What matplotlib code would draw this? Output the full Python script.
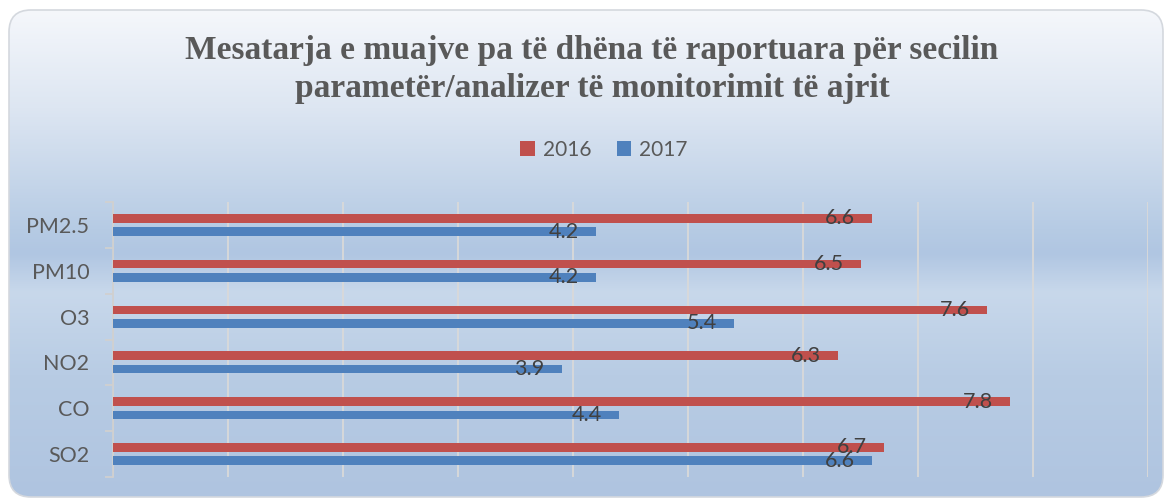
import numpy as np
import matplotlib
matplotlib.use("Agg")
import matplotlib.pyplot as plt
from matplotlib.patches import FancyBboxPatch
from matplotlib.colors import LinearSegmentedColormap

categories = ["PM2.5", "PM10", "O3", "NO2", "CO", "SO2"]
values_2016 = [6.6, 6.5, 7.6, 6.3, 7.8, 6.7]
values_2017 = [4.2, 4.2, 5.4, 3.9, 4.4, 6.6]
series_names = ["2016", "2017"]

W, H = 1165, 499
fig = plt.figure(figsize=(W / 100, H / 100), dpi=100)
fig.patch.set_facecolor("white")


def fx(x):
    return x / W


def fy(y):
    return 1 - y / H


# background panel with Office style gradient
bg = fig.add_axes([0, 0, 1, 1])
bg.set_xlim(0, W)
bg.set_ylim(H, 0)
bg.axis("off")
stops = [(0.0, "#f5f7fb"), (0.2, "#dde6f2"), (0.45, "#b6cbe4"),
         (0.5, "#b0c6e2"), (0.58, "#c8d8eb"), (0.75, "#b8cce4"), (1.0, "#afc4e0")]
cmap = LinearSegmentedColormap.from_list("office", stops)
grad = np.linspace(0, 1, 256).reshape(-1, 1)
img = bg.imshow(grad, cmap=cmap, extent=[9, 1163, 497, 10], aspect="auto")
panel = FancyBboxPatch((9, 10), 1154, 487, boxstyle="round,pad=0,rounding_size=22",
                       facecolor="none", edgecolor="#d4d8de", linewidth=1.2)
bg.add_patch(panel)
img.set_clip_path(panel)

ax = fig.add_axes([fx(113), fy(477), fx(1148 - 113), fy(202) - fy(477)])
ax.patch.set_alpha(0)

y = np.arange(len(categories))
bh = 0.19
off = 0.145
bars16 = ax.barh(y - off, values_2016, height=bh, color="#c0504d", label=series_names[0], zorder=3)
bars17 = ax.barh(y + off, values_2017, height=bh, color="#4f81bd", label=series_names[1], zorder=3)

for bars in (bars16, bars17):
    for b in bars:
        ax.annotate(f"{b.get_width():.1f}", (b.get_width(), b.get_y() + b.get_height() / 2),
                    xytext=(-12, 0), textcoords="offset points", ha="right", va="center",
                    fontsize=15.5, color="#404040", family="Lato", zorder=4)

ax.set_xlim(0, 9)
ax.set_ylim(len(categories) - 0.5, -0.5)
ax.set_xticks(np.arange(0, 10))
ax.xaxis.grid(True, color="#d9d9d9", linewidth=1.3, zorder=0)
ax.tick_params(axis="x", length=0, labelbottom=False)
ax.set_yticks(y)
ax.set_yticklabels(categories, fontsize=15.5, color="#595959", family="Lato")
ax.tick_params(axis="y", which="major", length=0, pad=17)
ax.set_yticks(np.arange(-0.5, len(categories)), minor=True)
ax.tick_params(axis="y", which="minor", length=6, color="#d0d0d0", width=1.3)
for s in ["top", "right", "bottom"]:
    ax.spines[s].set_visible(False)
ax.spines["left"].set_color("#d0d0d0")
ax.spines["left"].set_linewidth(1.3)

fig.text(fx(592), fy(35), "Mesatarja e muajve pa të dhëna të raportuara për secilin\n"
         "parametër/analizer të monitorimit të ajrit",
         ha="center", va="top", fontsize=24, fontweight="bold", family="Liberation Serif",
         color="#595959", linespacing=1.3)

fig.legend(handles=[bars16, bars17], labels=series_names, loc="center",
           bbox_to_anchor=(fx(604), fy(150)), ncol=2, frameon=False,
           prop={"family": "Lato", "size": 15}, labelcolor="#595959",
           handlelength=0.7, handleheight=0.7, handletextpad=0.4, columnspacing=1.2)

fig.savefig("out.png", dpi=100)
